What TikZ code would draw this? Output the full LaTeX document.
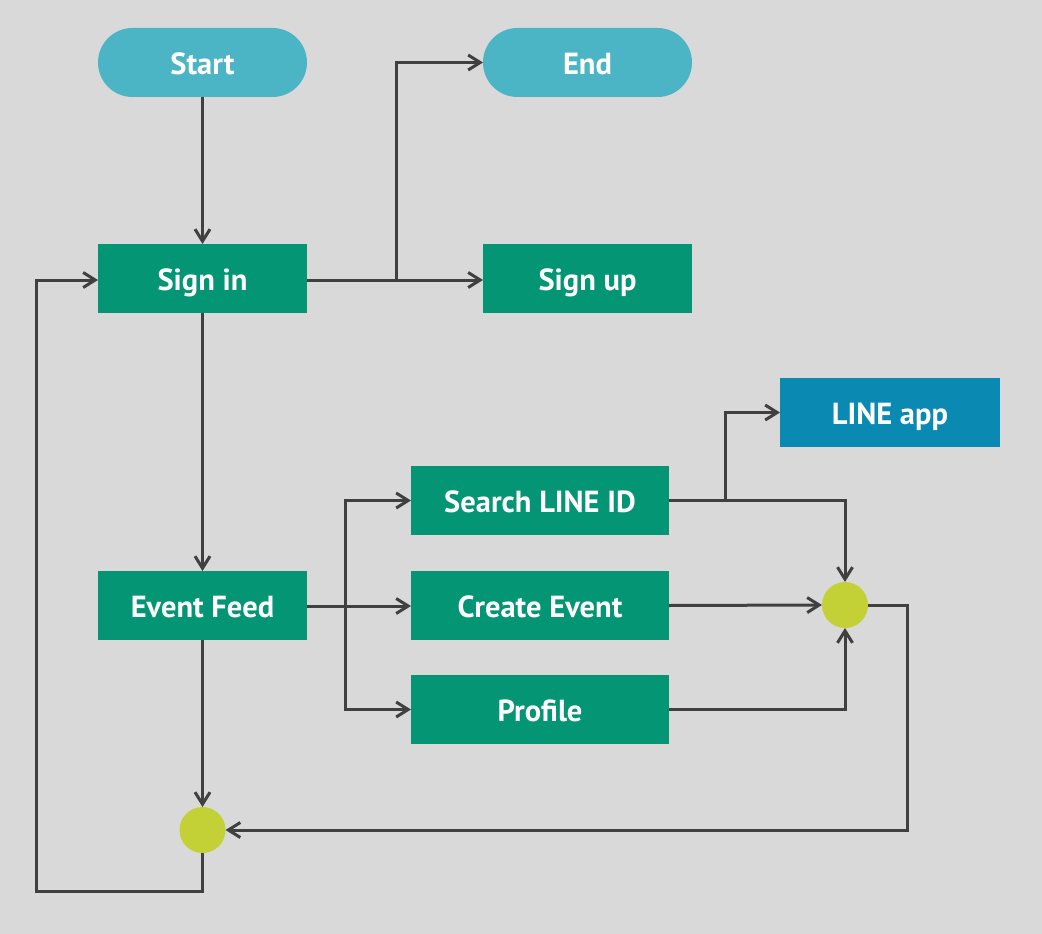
\documentclass[tikz,border=0pt]{standalone}
\usepackage{fontspec}
\setmainfont{PT Sans}
\usetikzlibrary{arrows.meta}
\definecolor{bg}{HTML}{D9D9D9}
\definecolor{pillc}{HTML}{4BB5C5}
\definecolor{greenc}{HTML}{039574}
\definecolor{bluec}{HTML}{0A89B3}
\definecolor{dotc}{HTML}{C3D137}
\definecolor{linec}{HTML}{404040}
\tikzset{
  x=1pt, y=-1pt,
  base/.style={inner sep=0pt, outer sep=0pt, text=white, font=\fontsize{30.5}{33}\selectfont\bfseries, align=center, text height=27pt, text depth=3pt},
  pill/.style={base, fill=pillc, minimum width=209pt, minimum height=69pt, rounded corners=34.5pt},
  gbox/.style={base, fill=greenc, minimum height=69pt},
  bbox/.style={base, fill=bluec, minimum height=69pt, minimum width=220pt},
  dot/.style={circle, fill=dotc, minimum size=46pt, inner sep=0pt, outer sep=0pt},
  conn/.style={draw=linec, line width=3pt, -{Straight Barb[length=12pt,width=15pt,line width=3pt]}},
  plain/.style={draw=linec, line width=3pt}
}
\begin{document}
\begin{tikzpicture}
\fill[bg] (0,0) rectangle (1042,934);
\useasboundingbox (0,0) rectangle (1042,934);
\node[pill] (start) at (202.5,62.5) {Start};
\node[pill] (end) at (587.5,62.5) {End};
\node[gbox, minimum width=209pt] (signin) at (202.5,278.5) {Sign in};
\node[gbox, minimum width=209pt] (signup) at (587.5,278.5) {Sign up};
\node[bbox] (line) at (890,412.5) {LINE app};
\node[gbox, minimum width=258pt] (search) at (540,500.5) {Search LINE ID};
\node[gbox, minimum width=258pt] (create) at (540,605.5) {Create Event};
\node[gbox, minimum width=258pt] (profile) at (540,709.5) {Profile};
\node[gbox, minimum width=209pt] (feed) at (202.5,605.5) {Event Feed};
\node[dot] (dr) at (845,605) {};
\node[dot] (db) at (202.5,830) {};
\coordinate (jEnd) at (396,280);
\coordinate (jFeed) at (345,606);
\coordinate (jLine) at (725,500.5);

\draw[conn] (start) -- (signin);
\draw[conn] (signin.east |- jEnd) -- (signup.west |- jEnd);
\draw[conn] (jEnd) |- (end.west);
\draw[conn] (signin) -- (feed);
\draw[conn] (feed.east |- jFeed) -- (create.west |- jFeed);
\draw[conn] (jFeed) |- (search.west);
\draw[conn] (jFeed) |- (profile.west);
\draw[conn] (search.east) -| (dr.north);
\draw[conn] (jLine) |- (line.west);
\draw[conn] (create.east) -- (dr.west);
\draw[conn] (profile.east) -| (dr.south);
\draw[conn] (dr.east) -- ++(39,0) |- (db.east);
\draw[conn] (feed) -- (db);
\draw[conn] (db.south) -- ++(0,38) -| (36,280) -- (signin.west |- 0,280);
\end{tikzpicture}
\end{document}
